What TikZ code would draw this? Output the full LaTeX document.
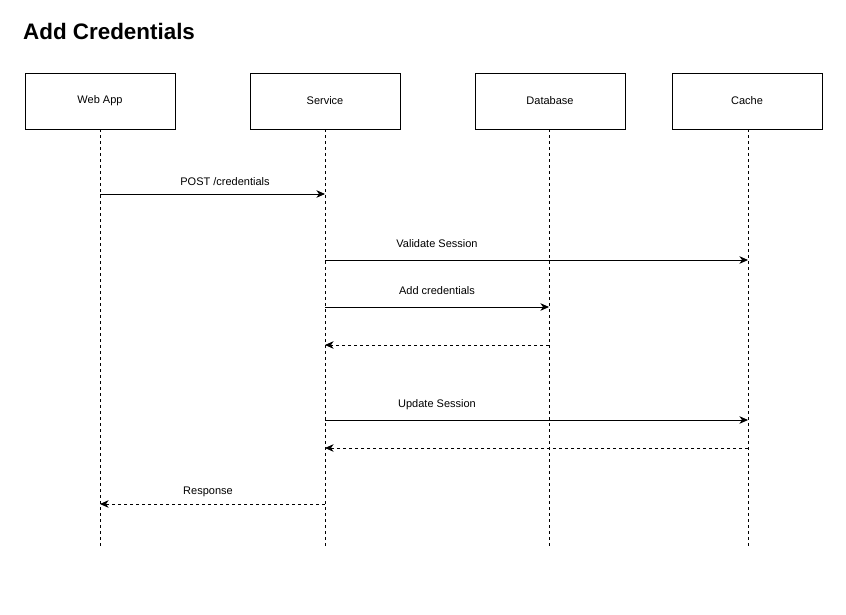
\documentclass[tikz,border=0pt]{standalone}
\usepackage{fontspec}
\setmainfont{Liberation Sans}
\usetikzlibrary{arrows.meta}
\begin{document}
\begin{tikzpicture}[x=1pt,y=-1pt,
  actor/.style={draw, line width=0.9pt, minimum width=150pt, minimum height=56pt, inner sep=0pt, font=\fontsize{11pt}{13pt}\selectfont},
  life/.style={dash pattern=on 3pt off 3pt, line width=0.8pt},
  msg/.style={line width=0.9pt, -{Stealth[length=8.5pt,width=7.5pt,inset=2.5pt]}},
  ret/.style={msg, dash pattern=on 3pt off 3pt},
  lbl/.style={font=\fontsize{11pt}{13pt}\selectfont, inner sep=0pt, anchor=base}]
\useasboundingbox (0,0) rectangle (846,615);
\node[anchor=base west, font=\fontsize{22.4pt}{26pt}\selectfont\bfseries, inner sep=0pt] (title) at (23,40) {Add Credentials};
\node[actor] (web) at (100,101) {\raisebox{-1pt}{Web App}};
\node[actor] (svc) at (325,101) {\raisebox{-1pt}{Service}};
\node[actor] (db) at (550,101) {\raisebox{-1pt}{Database}};
\node[actor] (cache) at (747,101) {\raisebox{-1pt}{Cache}};
\coordinate (webE) at (100,548);
\coordinate (svcE) at (325,548);
\coordinate (dbE) at (549,548);
\coordinate (cacheE) at (748,548);
\draw[life] (web.south) -- (webE);
\draw[life] (svc.south) -- (svcE);
\draw[life] ([xshift=-1pt]db.south) -- (dbE);
\draw[life] ([xshift=1pt]cache.south) -- (cacheE);
% messages
\coordinate (m1a) at (100,194); \coordinate (m1b) at (325,194);
\draw[msg] (m1a) -- (m1b);
\node[lbl] (l1) at (225,185) {POST /credentials};
\coordinate (m2a) at (325,260); \coordinate (m2b) at (748,260);
\draw[msg] (m2a) -- (m2b);
\node[lbl] (l2) at (437,247) {Validate Session};
\coordinate (m3a) at (325,307); \coordinate (m3b) at (549,307);
\draw[msg] (m3a) -- (m3b);
\node[lbl] (l3) at (437,294) {Add credentials};
\coordinate (m4a) at (549,345); \coordinate (m4b) at (325,345);
\draw[ret] (m4a) -- (m4b);
\coordinate (m5a) at (325,420); \coordinate (m5b) at (748,420);
\draw[msg] (m5a) -- (m5b);
\node[lbl] (l5) at (437,407) {Update Session};
\coordinate (m6a) at (748,448); \coordinate (m6b) at (325,448);
\draw[ret] (m6a) -- (m6b);
\coordinate (m7a) at (325,504); \coordinate (m7b) at (100,504);
\draw[ret] (m7a) -- (m7b);
\node[lbl] (l7) at (208,494) {Response};
\end{tikzpicture}
\end{document}
